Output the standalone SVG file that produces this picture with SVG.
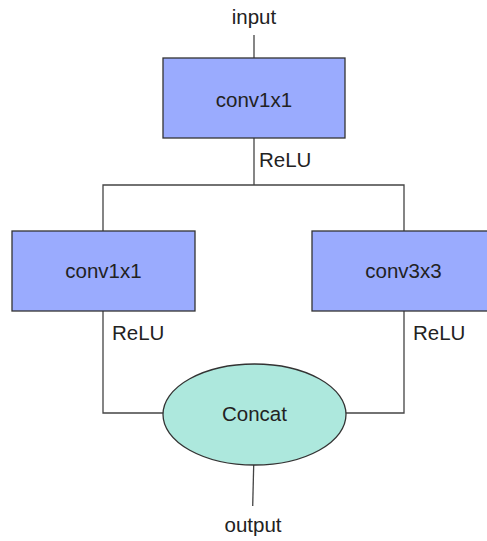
<svg xmlns="http://www.w3.org/2000/svg" width="487" height="541" viewBox="0 0 487 541">
<style>
text{font-family:"Liberation Sans",Arial,sans-serif;font-size:20.5px;fill:#222}
.box{fill:#9aabfe;stroke:#333;stroke-width:1.3}
.ell{fill:#ade8dd;stroke:#333;stroke-width:1.3}
.c{stroke:#444;stroke-width:1.3;fill:none}
.m{text-anchor:middle}
</style>
<rect width="487" height="541" fill="#fff"/>
<g id="connectors">
<line class="c" x1="254" y1="35" x2="254" y2="58"/>
<line class="c" x1="254" y1="138" x2="254" y2="185"/>
<polyline class="c" points="103,231 103,185 404,185 404,231"/>
<polyline class="c" points="103,311 103,413 163,413"/>
<polyline class="c" points="404,311 404,413 346,413"/>
<line class="c" x1="253.7" y1="465" x2="252.7" y2="506"/>
</g>
<g id="labels">
<text class="m" x="254" y="24">input</text>
<text x="259" y="167">ReLU</text>
<text x="112" y="340">ReLU</text>
<text x="413" y="340">ReLU</text>
<text class="m" x="253" y="532">output</text>
</g>
<g id="conv1x1_top">
<rect class="box" x="163" y="58" width="182" height="80"/>
<text class="m" x="254" y="107">conv1x1</text>
</g>
<g id="conv1x1_left">
<rect class="box" x="12" y="231" width="183" height="80"/>
<text class="m" x="103.5" y="278">conv1x1</text>
</g>
<g id="conv3x3">
<rect class="box" x="312" y="231" width="183" height="80"/>
<text class="m" x="403.5" y="278">conv3x3</text>
</g>
<g id="concat">
<ellipse class="ell" cx="254.5" cy="414.5" rx="91.5" ry="50.5"/>
<text class="m" x="254.5" y="421">Concat</text>
</g>
</svg>
